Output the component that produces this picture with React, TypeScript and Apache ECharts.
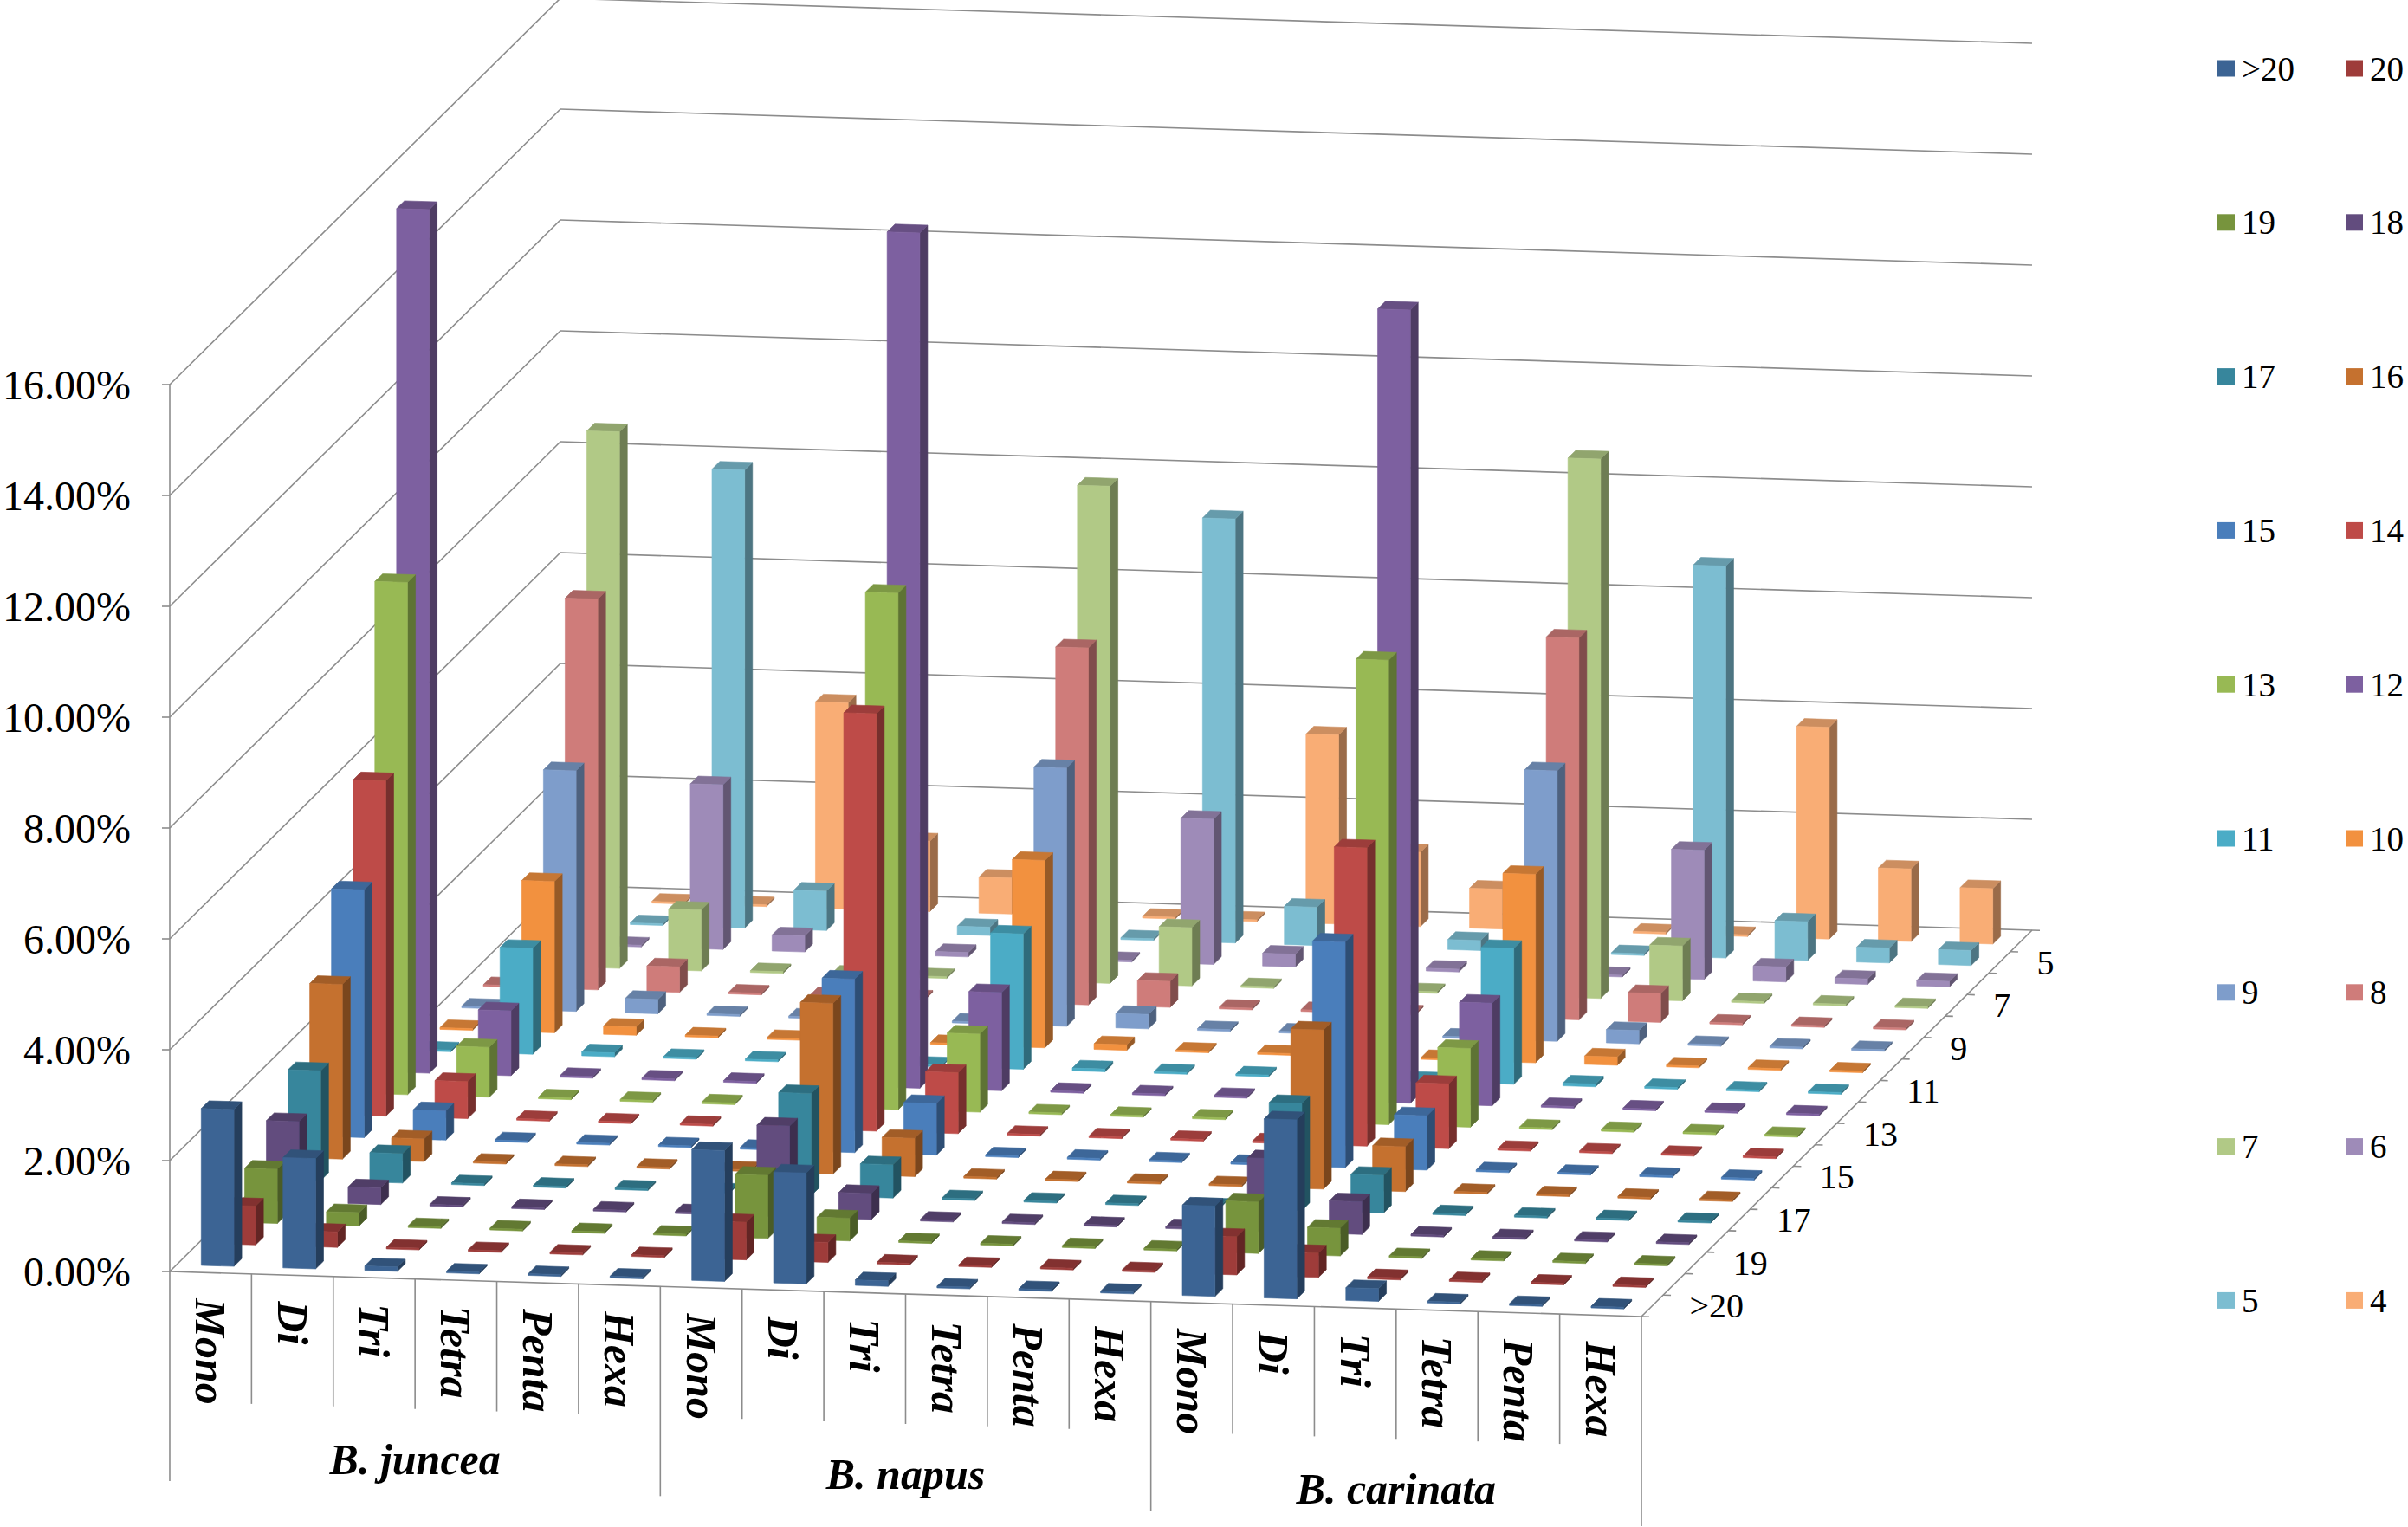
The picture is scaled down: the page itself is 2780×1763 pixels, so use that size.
import React, { useEffect, useRef } from 'react';
import * as echarts from 'echarts';

// ---------- data ----------
const SPECIES = ['B. juncea', 'B. napus', 'B. carinata'];
const REPEAT_TYPES = ['Mono', 'Di', 'Tri', 'Tetra', 'Penta', 'Hexa'];
// depth rows (series), front to back
const REPEAT_NUMBERS = ['>20', '20', '19', '18', '17', '16', '15', '14', '13', '12', '11', '10', '9', '8', '7', '6', '5', '4'];
const Y_TICKS = [0, 2, 4, 6, 8, 10, 12, 14, 16];

// values in %, indexed by REPEAT_NUMBERS (>20 ... 4)
const junceaMono = [2.83, 0.70, 0.98, 1.45, 1.98, 3.15, 4.47, 6.05, 9.24, 15.58, 0, 0, 0, 0, 0, 0, 0, 0];
const junceaDi = [1.99, 0.28, 0.24, 0.30, 0.53, 0.41, 0.53, 0.67, 0.90, 1.17, 1.91, 2.73, 4.34, 7.05, 9.68, 0, 0, 0];
const junceaTri = [0.08, 0, 0, 0, 0, 0, 0, 0, 0, 0, 0.07, 0.15, 0.26, 0.46, 1.10, 2.97, 8.26, 0];
const junceaTetra = [0, 0, 0, 0, 0, 0, 0, 0, 0, 0, 0, 0, 0, 0, 0, 0.29, 0.71, 3.72];
const junceaPenta = [0, 0, 0, 0, 0, 0, 0, 0, 0, 0, 0, 0, 0, 0, 0, 0.10, 0.30, 1.27];
const junceaHexa = [0, 0, 0, 0, 0, 0, 0, 0, 0, 0, 0, 0, 0, 0, 0, 0.08, 0.15, 0.65];

const napusMono = [2.36, 0.68, 1.14, 1.64, 1.84, 3.08, 3.13, 7.53, 9.32, 15.43, 0, 0, 0, 0, 0, 0, 0, 0];
const napusDi = [2.00, 0.36, 0.41, 0.47, 0.60, 0.69, 0.93, 1.10, 1.41, 1.77, 2.44, 3.38, 4.66, 6.44, 8.97, 0, 0, 0];
const napusTri = [0.10, 0, 0, 0, 0, 0, 0, 0, 0, 0, 0.05, 0.10, 0.26, 0.47, 1.05, 2.62, 7.65, 0];
const napusTetra = [0, 0, 0, 0, 0, 0, 0, 0, 0, 0, 0, 0, 0, 0, 0, 0.23, 0.69, 3.41];
const napusPenta = [0, 0, 0, 0, 0, 0, 0, 0, 0, 0, 0, 0, 0, 0, 0, 0.10, 0.30, 1.34];
const napusHexa = [0, 0, 0, 0, 0, 0, 0, 0, 0, 0, 0, 0, 0, 0, 0, 0.05, 0.18, 0.72];

const carinataMono = [1.63, 0.69, 0.93, 1.32, 1.93, 2.87, 4.07, 5.38, 8.38, 14.31, 0, 0, 0, 0, 0, 0, 0, 0];
const carinataDi = [3.23, 0.44, 0.50, 0.59, 0.68, 0.81, 0.98, 1.17, 1.42, 1.85, 2.45, 3.40, 4.88, 6.89, 9.73, 0, 0, 0];
const carinataTri = [0.23, 0.04, 0, 0, 0, 0, 0, 0, 0, 0, 0.05, 0.15, 0.24, 0.52, 0.99, 2.33, 7.07, 0];
const carinataTetra = [0, 0, 0, 0, 0, 0, 0, 0, 0, 0, 0, 0, 0, 0, 0, 0.27, 0.70, 3.82];
const carinataPenta = [0, 0, 0, 0, 0, 0, 0, 0, 0, 0, 0, 0, 0, 0, 0, 0.10, 0.27, 1.31];
const carinataHexa = [0, 0, 0, 0, 0, 0, 0, 0, 0, 0, 0, 0, 0, 0, 0, 0.10, 0.27, 1.00];

const SPECIES_DATA = [
  [junceaMono, junceaDi, junceaTri, junceaTetra, junceaPenta, junceaHexa],
  [napusMono, napusDi, napusTri, napusTetra, napusPenta, napusHexa],
  [carinataMono, carinataDi, carinataTri, carinataTetra, carinataPenta, carinataHexa],
];

// ---------- style ----------
const ROW_COLORS = [
  '#3C6494', '#9E3C3A', '#77943D', '#624C7E', '#37869C', '#C5712F',
  '#4A7EBB', '#BE4B48', '#98B954', '#7D60A0', '#4BACC6', '#F2913F',
  '#7E9DCB', '#CF7C7A', '#B1C986', '#9E8BB8', '#7CBDD1', '#F9AD75',
];
const FONT = 'Liberation Serif';
const GRID_COLOR = '#8c8c8c';
const ROW_DX = 451 / 18;
const ROW_DY = -446 / 18;
const SLANT = 52 / 1700;
const BAR_W = 0.40;
const BAR_D = 0.36;

const CATEGORY_KEYS = SPECIES.flatMap((s) => REPEAT_TYPES.map((t) => `${s} ${t}`));
const valueAt = (c: number, r: number) => SPECIES_DATA[Math.floor(c / REPEAT_TYPES.length)][c % REPEAT_TYPES.length][r];

function shade(hex: string, f: number) {
  const n = parseInt(hex.slice(1), 16);
  const r = Math.round(((n >> 16) & 255) * f);
  const g = Math.round(((n >> 8) & 255) * f);
  const b = Math.round((n & 255) * f);
  return `rgb(${r},${g},${b})`;
}

const projector = (gl: number) => (X: number, Y: number, d: number) => [X + d * ROW_DX, Y + (X - gl) * SLANT + d * ROW_DY];

function seg(a: number[], b: number[], w = 1.6) {
  return { type: 'line', silent: true, shape: { x1: a[0], y1: a[1], x2: b[0], y2: b[1] }, style: { stroke: GRID_COLOR, lineWidth: w } };
}

function frameRender(params: any, api: any) {
  const cs = params.coordSys;
  const gl = cs.x;
  const gw = cs.width;
  const P = projector(gl);
  const band = api.size([1, 0])[0];
  const y0 = api.coord([0, 0])[1];
  const nRows = REPEAT_NUMBERS.length;
  const children: any[] = [];
  Y_TICKS.forEach((t) => {
    const y = api.coord([0, t])[1];
    children.push(seg(P(gl, y, 0), P(gl, y, nRows)));
    children.push(seg(P(gl, y, nRows), P(gl + gw, y, nRows)));
  });
  // floor front edge (category axis)
  children.push(seg(P(gl, y0, 0), P(gl + gw, y0, 0)));
  // depth axis
  children.push(seg(P(gl + gw, y0, 0), P(gl + gw, y0, nRows)));
  for (let d = 0; d <= nRows; d++) {
    children.push(seg(P(gl + gw, y0, d), P(gl + gw + 9, y0, d)));
  }
  REPEAT_NUMBERS.forEach((name, r) => {
    if (r % 2 !== 0) return;
    const p = P(gl + gw, y0, r + 0.5);
    children.push({
      type: 'text', silent: true, x: p[0] + 43, y: p[1],
      style: { text: name, fontSize: 40, fontFamily: FONT, fill: '#000', align: 'left', verticalAlign: 'middle' },
    });
  });
  // category dividers
  const nCat = CATEGORY_KEYS.length;
  for (let k = 0; k <= nCat; k++) {
    const X = gl + k * band;
    const top = P(X, y0, 0);
    const len = k % REPEAT_TYPES.length === 0 ? 242 : 150;
    children.push(seg(top, [top[0], top[1] + len]));
  }
  // category labels
  CATEGORY_KEYS.forEach((_, c) => {
    const cx = api.coord([c, 0])[0];
    const p = P(cx, y0, 0);
    children.push({
      type: 'text', silent: true, x: p[0], y: p[1] + 30, rotation: -Math.PI / 2,
      style: {
        text: REPEAT_TYPES[c % REPEAT_TYPES.length], fontSize: 50, fontFamily: FONT, fontWeight: 'bold', fontStyle: 'italic',
        fill: '#000', align: 'left', verticalAlign: 'middle',
      },
    });
  });
  // species labels
  SPECIES.forEach((s, i) => {
    const X = gl + (i * REPEAT_TYPES.length + REPEAT_TYPES.length / 2) * band;
    const p = P(X, y0, 0);
    children.push({
      type: 'text', silent: true, x: p[0], y: p[1] + 208,
      style: { text: s, fontSize: 50, fontFamily: FONT, fontWeight: 'bold', fontStyle: 'italic', fill: '#000', align: 'center', verticalAlign: 'middle' },
    });
  });
  return { type: 'group', children };
}

const makeBarRender = (r: number) => (params: any, api: any) => {
  const gl = params.coordSys.x;
  const P = projector(gl);
  const c = api.value(0);
  const v = api.value(1);
  const [cx, y0] = api.coord([c, 0]);
  const yv = api.coord([c, v])[1];
  const band = api.size([1, 0])[0];
  const h = Math.max(y0 - yv, 2);
  const yt = y0 - h;
  const xl = cx - (band * BAR_W) / 2;
  const xr = cx + (band * BAR_W) / 2;
  const dF = r + 0.5 - BAR_D / 2;
  const dB = r + 0.5 + BAR_D / 2;
  const base = ROW_COLORS[r];
  const side = shade(base, 0.62);
  const topC = shade(base, 0.82);
  const poly = (pts: number[][], fill: string) => ({
    type: 'polygon', shape: { points: pts }, style: { fill, stroke: fill, lineWidth: 0.6, lineJoin: 'round' },
  });
  return {
    type: 'group',
    children: [
      poly([P(xr, y0, dF), P(xr, y0, dB), P(xr, yt, dB), P(xr, yt, dF)], side),
      poly([P(xl, yt, dF), P(xr, yt, dF), P(xr, yt, dB), P(xl, yt, dB)], topC),
      poly([P(xl, y0, dF), P(xr, y0, dF), P(xr, yt, dF), P(xl, yt, dF)], base),
    ],
  };
};

export default function App() {
  const ref = useRef<HTMLDivElement>(null);
  useEffect(() => {
    if (!ref.current) return;
    const chart = echarts.init(ref.current, undefined, { renderer: 'svg' });
    const barSeries = REPEAT_NUMBERS.map((name, r) => ({
      type: 'custom',
      name,
      coordinateSystem: 'cartesian2d',
      renderItem: makeBarRender(r),
      data: CATEGORY_KEYS.map((_, c) => [c, valueAt(c, r)]),
      itemStyle: { color: ROW_COLORS[r] },
      clip: false,
      silent: true,
      z: 3,
    })).reverse();
    const legendCommon = {
      orient: 'vertical',
      top: 59,
      padding: 0,
      icon: 'rect',
      itemWidth: 20,
      itemHeight: 19,
      itemGap: 137.8,
      selectedMode: false,
      textStyle: { fontSize: 39, lineHeight: 40, fontFamily: FONT, color: '#000', padding: [0, 0, 0, 3] },
    };
    chart.setOption({
      animation: false,
      backgroundColor: '#ffffff',
      textStyle: { fontFamily: FONT },
      legend: [
        { ...legendCommon, left: 2560, data: REPEAT_NUMBERS.filter((_, i) => i % 2 === 0) },
        { ...legendCommon, left: 2708, data: REPEAT_NUMBERS.filter((_, i) => i % 2 === 1) },
      ],
      grid: { left: 195, top: 444, width: 1700, height: 1024, containLabel: false },
      xAxis: { type: 'category', data: CATEGORY_KEYS, show: false },
      yAxis: {
        type: 'value', min: 0, max: 16, interval: 2,
        axisLine: { show: true, lineStyle: { color: GRID_COLOR, width: 1.6 } },
        axisTick: { show: true, length: 9, lineStyle: { color: GRID_COLOR, width: 1.6 } },
        splitLine: { show: false },
        axisLabel: { fontSize: 48, fontFamily: FONT, color: '#000', margin: 45, formatter: (v: number) => v.toFixed(2) + '%' },
      },
      series: [
        { type: 'custom', name: 'frame', coordinateSystem: 'cartesian2d', renderItem: frameRender, data: [[0, 0]], clip: false, silent: true, z: 1 },
        ...barSeries,
      ],
    });
    return () => chart.dispose();
  }, []);
  return <div ref={ref} style={{ position: 'fixed', left: 0, top: 0, width: 2780, height: 1763, background: '#fff' }} />;
}
